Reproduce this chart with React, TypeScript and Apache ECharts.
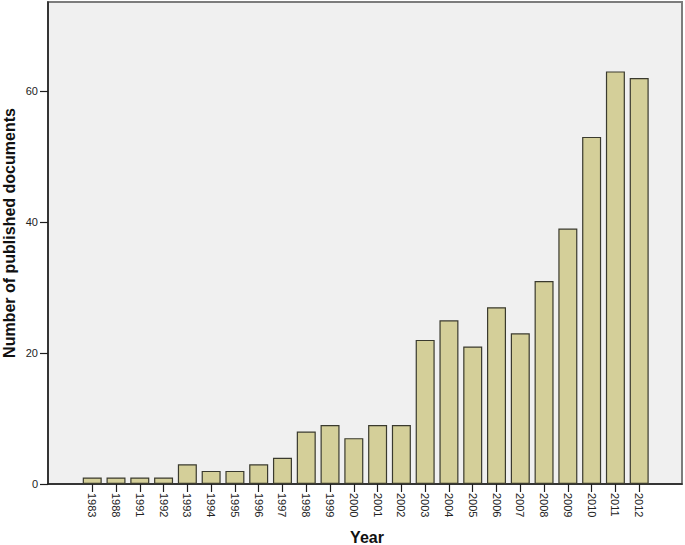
import React, { useEffect, useRef } from "react";
import * as echarts from "echarts";

const years = [
  "1983", "1988", "1991", "1992", "1993", "1994", "1995", "1996", "1997", "1998",
  "1999", "2000", "2001", "2002", "2003", "2004", "2005", "2006", "2007", "2008",
  "2009", "2010", "2011", "2012",
];
const counts = [1, 1, 1, 1, 3, 2, 2, 3, 4, 8, 9, 7, 9, 9, 22, 25, 21, 27, 23, 31, 39, 53, 63, 62];
const yTickValues = [0, 20, 40, 60];
const yTitle = "Number of published documents";
const xTitle = "Year";

export default function App() {
  const ref = useRef<HTMLDivElement>(null);
  useEffect(() => {
    if (!ref.current) return;
    const chart = echarts.init(ref.current, undefined, { renderer: "svg" });
    const idx = years.map((_, i) => i);
    const font = "'Liberation Sans', Arial, sans-serif";
    chart.setOption({
      animation: false,
      backgroundColor: "#ffffff",
      textStyle: { fontFamily: font },
      grid: {
        left: 48,
        right: 3,
        top: 2,
        bottom: 61,
        show: true,
        backgroundColor: "#f0f0f0",
        borderColor: "#7c7c7c",
        borderWidth: 2,
      },
      xAxis: {
        type: "value",
        min: -1.86,
        max: 24.8,
        axisLine: { show: true, onZero: false, lineStyle: { color: "#1e1e1e", width: 1.5 } },
        axisTick: { show: true, customValues: idx, length: 8, lineStyle: { color: "#1e1e1e", width: 1.2 } },
        axisLabel: {
          customValues: idx,
          formatter: (v: number) => years[Math.round(v)] ?? "",
          rotate: -90,
          fontSize: 11,
          color: "#222",
          margin: 9,
          fontFamily: font,
        },
        splitLine: { show: false },
      },
      yAxis: {
        type: "value",
        min: 0,
        max: 73.6,
        axisLine: { show: true, onZero: false, lineStyle: { color: "#1e1e1e", width: 1.5 } },
        axisTick: { show: true, customValues: yTickValues, length: 8, lineStyle: { color: "#1e1e1e", width: 1.2 } },
        axisLabel: {
          customValues: yTickValues,
          fontSize: 11,
          color: "#222",
          margin: 10,
          fontFamily: font,
        },
        splitLine: { show: false },
      },
      series: [
        {
          type: "bar",
          data: counts.map((v, i) => [i, v]),
          barWidth: 19,
          itemStyle: { color: "#d4cf99", borderColor: "#3a3a2e", borderWidth: 1.2 },
        },
      ],
      graphic: [
        {
          type: "text",
          x: 9,
          y: 233,
          rotation: Math.PI / 2,
          style: {
            text: yTitle,
            font: `bold 16px ${font}`,
            fill: "#111",
            align: "center",
            verticalAlign: "middle",
          },
        },
        {
          type: "text",
          x: 367,
          y: 537,
          style: {
            text: xTitle,
            font: `bold 16px ${font}`,
            fill: "#111",
            align: "center",
            verticalAlign: "middle",
          },
        },
      ],
    });
    return () => chart.dispose();
  }, []);
  return (
    <div
      ref={ref}
      style={{ position: "fixed", left: 0, top: 0, width: 685, height: 545 }}
    />
  );
}
